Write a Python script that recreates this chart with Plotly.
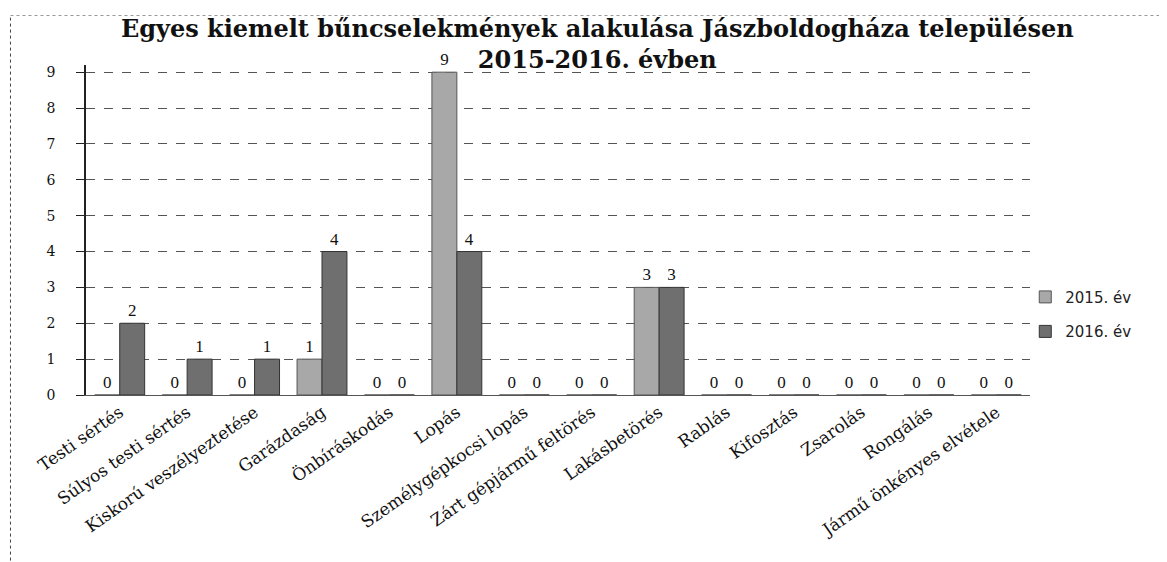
import plotly.graph_objects as go

categories = [
    "Testi sértés",
    "Súlyos testi sértés",
    "Kiskorú veszélyeztetése",
    "Garázdaság",
    "Önbíráskodás",
    "Lopás",
    "Személygépkocsi lopás",
    "Zárt gépjármű feltörés",
    "Lakásbetörés",
    "Rablás",
    "Kifosztás",
    "Zsarolás",
    "Rongálás",
    "Jármű önkényes elvétele",
]
values_2015 = [0, 0, 0, 1, 0, 9, 0, 0, 3, 0, 0, 0, 0, 0]
values_2016 = [2, 1, 1, 4, 0, 4, 0, 0, 3, 0, 0, 0, 0, 0]
series_names = ["2015. év", "2016. év"]
y_ticks = list(range(0, 10))

serif = "Liberation Serif"
wide_serif = "DejaVu Serif"

fig = go.Figure()
fig.add_trace(go.Bar(
    x=categories, y=values_2015, name=series_names[0], legendgroup="a",
    marker=dict(color="#a8a8a8", line=dict(color="#555555", width=1)),
    text=[str(v) for v in values_2015], textposition="outside",
    textfont=dict(family=serif, size=17, color="#111111"), cliponaxis=False,
))
fig.add_trace(go.Bar(
    x=categories, y=values_2016, name=series_names[1], legendgroup="b",
    marker=dict(color="#6f6f6f", line=dict(color="#333333", width=1)),
    text=[str(v) for v in values_2016], textposition="outside",
    textfont=dict(family=serif, size=17, color="#111111"), cliponaxis=False,
))

fig.update_layout(
    width=1167, height=562,
    margin=dict(l=78, r=145, t=57, b=175, autoexpand=False),
    paper_bgcolor="white", plot_bgcolor="white",
    barmode="group", bargap=0.26, bargroupgap=0.0,
    title=dict(
        text="<b>Egyes kiemelt bűncselekmények alakulása Jászboldogháza településen<br>2015-2016. évben</b>",
        x=0.505, xanchor="center", y=0.948, yanchor="middle", yref="container",
        font=dict(family=wide_serif, size=24, color="#111111"),
    ),
    legend=dict(
        x=0.995, xanchor="left", y=0.245, yanchor="middle",
        font=dict(family="DejaVu Sans", size=15, color="#222222"),
        bgcolor="rgba(0,0,0,0)", itemwidth=30, tracegroupgap=12,
    ),
    showlegend=True,
    xaxis=dict(
        tickangle=-35, tickfont=dict(family=wide_serif, size=17, color="#111111"),
        showline=True, linecolor="#555555", linewidth=1, ticks="",
        automargin=False,
    ),
    yaxis=dict(
        range=[0, 9.2], tickvals=y_ticks,
        tickfont=dict(family=wide_serif, size=14, color="#111111"),
        showgrid=True, gridcolor="#555555", griddash="dash", gridwidth=1,
        showline=True, linecolor="#222222", linewidth=1.5,
        ticks="outside", ticklen=8, tickcolor="#222222",
        ticklabelstandoff=18, zeroline=False, automargin=False,
    ),
    shapes=[
        dict(type="line", xref="paper", yref="paper", x0=-0.08, x1=-0.08, y0=-0.52, y1=1.15,
             line=dict(color="#444444", width=1, dash="dot")),
        dict(type="line", xref="paper", yref="paper", x0=-0.08, x1=1.15, y0=1.15, y1=1.15,
             line=dict(color="#999999", width=1, dash="dot")),
    ],
)

fig.write_html("out.html")
